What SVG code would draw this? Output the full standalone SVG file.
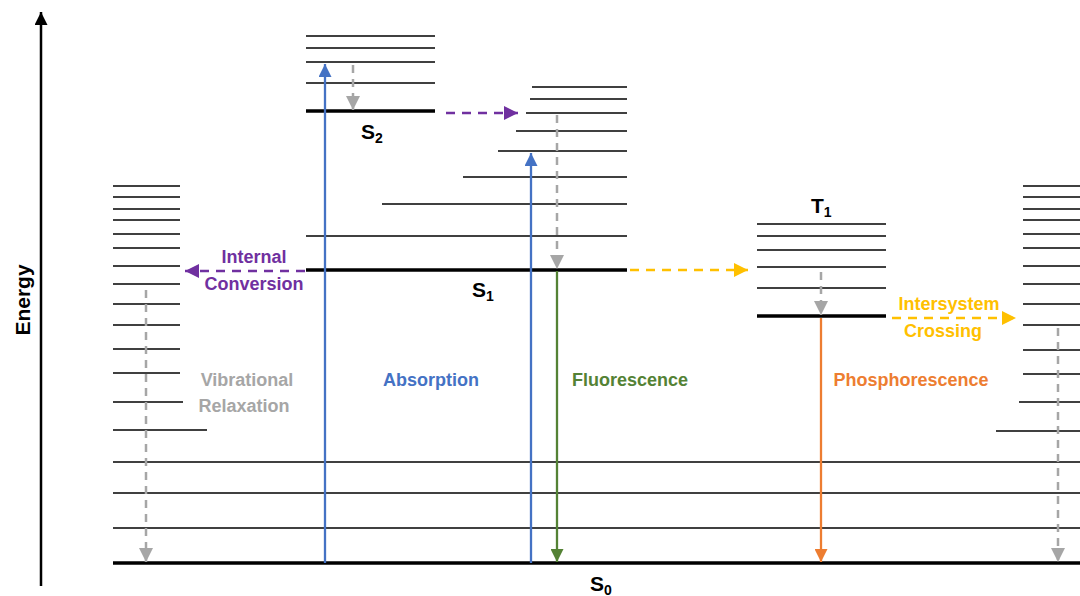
<svg xmlns="http://www.w3.org/2000/svg" width="1080" height="596" viewBox="0 0 1080 596">
<style>
.lv{stroke:#000;stroke-width:1.7;fill:none}
.lk{stroke:#000;stroke-width:3.5;fill:none}
.t{font-family:"Liberation Sans",Arial,sans-serif;font-weight:bold;font-size:18px;text-anchor:middle}
.st{font-family:"Liberation Sans",Arial,sans-serif;font-weight:bold;font-size:21px}
.sub{font-size:14px}
.vr{stroke:#A6A6A6;stroke-width:2.5;stroke-dasharray:8 6;fill:none}
</style>
<defs>
<marker id="mk" viewBox="0 0 10 10" refX="10" refY="5" markerWidth="15" markerHeight="13" markerUnits="userSpaceOnUse" orient="auto"><path d="M0,0L10,5L0,10z" fill="#000"/></marker>
<marker id="mb" viewBox="0 0 10 10" refX="10" refY="5" markerWidth="14" markerHeight="13" markerUnits="userSpaceOnUse" orient="auto"><path d="M0,0L10,5L0,10z" fill="#4472C4"/></marker>
<marker id="mg" viewBox="0 0 10 10" refX="10" refY="5" markerWidth="14" markerHeight="13" markerUnits="userSpaceOnUse" orient="auto"><path d="M0,0L10,5L0,10z" fill="#548235"/></marker>
<marker id="mo" viewBox="0 0 10 10" refX="10" refY="5" markerWidth="14" markerHeight="13" markerUnits="userSpaceOnUse" orient="auto"><path d="M0,0L10,5L0,10z" fill="#ED7D31"/></marker>
<marker id="mp" viewBox="0 0 10 10" refX="10" refY="5" markerWidth="14" markerHeight="14" markerUnits="userSpaceOnUse" orient="auto"><path d="M0,0L10,5L0,10z" fill="#7030A0"/></marker>
<marker id="my" viewBox="0 0 10 10" refX="10" refY="5" markerWidth="14" markerHeight="14" markerUnits="userSpaceOnUse" orient="auto"><path d="M0,0L10,5L0,10z" fill="#FFC000"/></marker>
<marker id="ma" viewBox="0 0 10 10" refX="10" refY="5" markerWidth="14" markerHeight="14" markerUnits="userSpaceOnUse" orient="auto"><path d="M0,0L10,5L0,10z" fill="#A6A6A6"/></marker>
</defs>

<g id="axis">
<line x1="41" y1="586" x2="41" y2="12" stroke="#000" stroke-width="2.5" marker-end="url(#mk)"/>
<text class="t" style="font-size:21px" transform="translate(30,300) rotate(-90)">Energy</text>
</g>

<g id="S0">
<line class="lk" x1="113" y1="563" x2="1080" y2="563"/>
<line class="lv" x1="113" y1="528" x2="1080" y2="528"/>
<line class="lv" x1="113" y1="493" x2="1080" y2="493"/>
<line class="lv" x1="113" y1="462" x2="1080" y2="462"/>
<text class="st" x="590" y="591">S<tspan class="sub" dy="4">0</tspan></text>
</g>

<g id="left-stack">
<line class="lv" x1="113" y1="186" x2="180" y2="186"/>
<line class="lv" x1="113" y1="197" x2="180" y2="197"/>
<line class="lv" x1="113" y1="209" x2="180" y2="209"/>
<line class="lv" x1="113" y1="220" x2="180" y2="220"/>
<line class="lv" x1="113" y1="234" x2="180" y2="234"/>
<line class="lv" x1="113" y1="248" x2="180" y2="248"/>
<line class="lv" x1="113" y1="266" x2="180" y2="266"/>
<line class="lv" x1="113" y1="284" x2="180" y2="284"/>
<line class="lv" x1="113" y1="304" x2="180" y2="304"/>
<line class="lv" x1="113" y1="325" x2="180" y2="325"/>
<line class="lv" x1="113" y1="349" x2="180" y2="349"/>
<line class="lv" x1="113" y1="373" x2="180" y2="373"/>
<line class="lv" x1="113" y1="402" x2="183" y2="402"/>
<line class="lv" x1="113" y1="430" x2="207" y2="430"/>
</g>

<g id="right-stack">
<line class="lv" x1="1023" y1="186" x2="1080" y2="186"/>
<line class="lv" x1="1023" y1="197" x2="1080" y2="197"/>
<line class="lv" x1="1023" y1="209" x2="1080" y2="209"/>
<line class="lv" x1="1023" y1="220" x2="1080" y2="220"/>
<line class="lv" x1="1023" y1="234" x2="1080" y2="234"/>
<line class="lv" x1="1023" y1="248" x2="1080" y2="248"/>
<line class="lv" x1="1023" y1="266" x2="1080" y2="266"/>
<line class="lv" x1="1023" y1="284" x2="1080" y2="284"/>
<line class="lv" x1="1023" y1="304" x2="1080" y2="304"/>
<line class="lv" x1="1023" y1="325" x2="1080" y2="325"/>
<line class="lv" x1="1023" y1="350" x2="1080" y2="350"/>
<line class="lv" x1="1023" y1="374" x2="1080" y2="374"/>
<line class="lv" x1="1019" y1="402" x2="1080" y2="402"/>
<line class="lv" x1="996" y1="431" x2="1080" y2="431"/>
</g>

<g id="S2">
<line class="lv" x1="306" y1="36" x2="435" y2="36"/>
<line class="lv" x1="306" y1="48" x2="435" y2="48"/>
<line class="lv" x1="306" y1="62" x2="435" y2="62"/>
<line class="lv" x1="306" y1="83" x2="435" y2="83"/>
<line class="lk" x1="306" y1="111" x2="435" y2="111"/>
<text class="st" x="361" y="139">S<tspan class="sub" dy="4">2</tspan></text>
</g>

<g id="S1">
<line class="lv" x1="532" y1="87" x2="627" y2="87"/>
<line class="lv" x1="530" y1="99" x2="627" y2="99"/>
<line class="lv" x1="526" y1="113" x2="627" y2="113"/>
<line class="lv" x1="516" y1="131" x2="627" y2="131"/>
<line class="lv" x1="498" y1="151" x2="627" y2="151"/>
<line class="lv" x1="463" y1="177" x2="627" y2="177"/>
<line class="lv" x1="382" y1="204" x2="627" y2="204"/>
<line class="lv" x1="306" y1="236" x2="627" y2="236"/>
<line class="lk" x1="306" y1="270" x2="627" y2="270"/>
<text class="st" x="472" y="297">S<tspan class="sub" dy="4">1</tspan></text>
</g>

<g id="T1">
<line class="lv" x1="757" y1="224" x2="886" y2="224"/>
<line class="lv" x1="757" y1="236" x2="886" y2="236"/>
<line class="lv" x1="757" y1="250" x2="886" y2="250"/>
<line class="lv" x1="757" y1="267" x2="886" y2="267"/>
<line class="lv" x1="757" y1="288" x2="886" y2="288"/>
<line class="lk" x1="757" y1="316" x2="886" y2="316"/>
<text class="st" x="811" y="213">T<tspan class="sub" dy="4">1</tspan></text>
</g>

<g id="connectors">
<line class="vr" x1="146" y1="290" x2="146" y2="562" marker-end="url(#ma)"/>
<line class="vr" x1="1058" y1="328" x2="1058" y2="562" marker-end="url(#ma)"/>
<line class="vr" x1="353" y1="65" x2="353" y2="110" marker-end="url(#ma)"/>
<line class="vr" x1="557" y1="115" x2="557" y2="269" marker-end="url(#ma)"/>
<line class="vr" x1="821" y1="272" x2="821" y2="315" marker-end="url(#ma)"/>
<line x1="325" y1="563" x2="325" y2="64" stroke="#4472C4" stroke-width="2.3" marker-end="url(#mb)"/>
<line x1="531" y1="563" x2="531" y2="153" stroke="#4472C4" stroke-width="2.3" marker-end="url(#mb)"/>
<line x1="557" y1="271" x2="557" y2="562" stroke="#548235" stroke-width="2.3" marker-end="url(#mg)"/>
<line x1="821" y1="318" x2="821" y2="562" stroke="#ED7D31" stroke-width="2.3" marker-end="url(#mo)"/>
<line x1="446" y1="113" x2="518" y2="113" stroke="#7030A0" stroke-width="2.5" stroke-dasharray="9 7" marker-end="url(#mp)"/>
<line x1="305" y1="271" x2="185" y2="271" stroke="#7030A0" stroke-width="2.5" stroke-dasharray="9 7" marker-end="url(#mp)"/>
<line x1="630" y1="270" x2="748" y2="270" stroke="#FFC000" stroke-width="2.5" stroke-dasharray="9 7" marker-end="url(#my)"/>
<line x1="892" y1="318" x2="1016" y2="318" stroke="#FFC000" stroke-width="2.5" stroke-dasharray="9 7" marker-end="url(#my)"/>
</g>

<g id="labels">
<text class="t" x="254" y="263" fill="#7030A0">Internal</text>
<text class="t" x="254" y="290" fill="#7030A0">Conversion</text>
<text class="t" x="247" y="386" fill="#A6A6A6">Vibrational</text>
<text class="t" x="244" y="412" fill="#A6A6A6">Relaxation</text>
<text class="t" x="431" y="386" fill="#4472C4">Absorption</text>
<text class="t" x="630" y="386" fill="#548235">Fluorescence</text>
<text class="t" x="911" y="386" fill="#ED7D31">Phosphorescence</text>
<text class="t" x="949" y="310" fill="#FFC000">Intersystem</text>
<text class="t" x="943" y="337" fill="#FFC000">Crossing</text>
</g>
</svg>
